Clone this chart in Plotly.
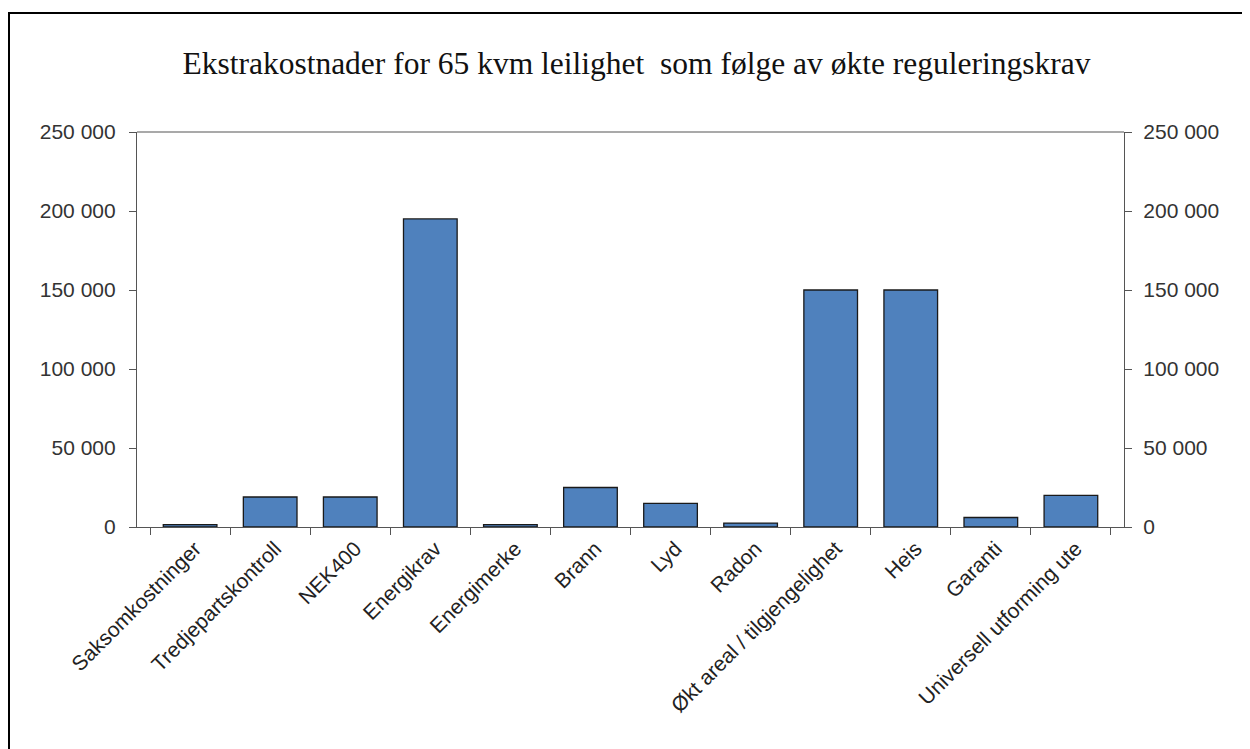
import plotly.graph_objects as go

categories = ["Saksomkostninger", "Tredjepartskontroll", "NEK400", "Energikrav", "Energimerke",
              "Brann", "Lyd", "Radon", "Økt areal / tilgjengelighet", "Heis", "Garanti",
              "Universell utforming ute"]
values = [1500, 19000, 19000, 195000, 1500, 25000, 15000, 2500, 150000, 150000, 6000, 20000]
y_ticks = [0, 50000, 100000, 150000, 200000, 250000]
y_tick_labels = ["0", "50 000", "100 000", "150 000", "200 000", "250 000"]
title = "Ekstrakostnader for 65 kvm leilighet  som følge av økte reguleringskrav"

W, H = 1250, 749
OFF = 8  # page body margin
L, R, T, B = 137 - OFF, 1124 - OFF, 132 - OFF, 527 - OFF

fig = go.Figure()
fig.add_trace(go.Bar(x=categories, y=values,
                     marker=dict(color="#4F81BD", line=dict(color="#1a1a1a", width=1.3)),
                     showlegend=False))
fig.add_trace(go.Scatter(x=categories, y=values, yaxis="y2", mode="markers",
                         marker=dict(opacity=0), showlegend=False, hoverinfo="skip"))

tickfont = dict(family="Liberation Sans, Arial", size=21, color="#333333")
fig.update_layout(
    width=W, height=H,
    margin=dict(l=L, r=W - R, t=T, b=H - B, pad=0),
    plot_bgcolor="white", paper_bgcolor="white",
    bargap=0.33,
    title=dict(text=title, x=0.506, xanchor="center", xref="paper", y=1 - 55 / H, yanchor="middle",
               yref="container", font=dict(family="Liberation Serif, Times New Roman", size=31.5, color="#111111")),
    xaxis=dict(type="category", showline=True, linecolor="#555555", linewidth=1.2,
               ticks="outside", ticklen=7, tickcolor="#555555", tickson="boundaries",
               tickangle=-45, tickfont=dict(family="Liberation Sans, Arial", size=21, color="#222222"),
               ticklabelshift=5, showgrid=False, zeroline=False),
    yaxis=dict(range=[0, 250000], tickvals=y_ticks, ticktext=y_tick_labels,
               showline=True, linecolor="#555555", linewidth=1.2, ticks="outside", ticklen=7,
               tickcolor="#555555", tickfont=tickfont, showgrid=False, zeroline=False, ticklabelstandoff=9),
    yaxis2=dict(range=[0, 250000], tickvals=y_ticks, ticktext=y_tick_labels, overlaying="y", side="right",
                showline=True, linecolor="#555555", linewidth=1.2, ticks="outside", ticklen=7,
                tickcolor="#555555", tickfont=tickfont, showgrid=False, zeroline=False, ticklabelstandoff=7),
)
# top border line of plot area
fig.add_shape(type="line", xref="paper", yref="paper", x0=0, x1=1, y0=1, y1=1,
              line=dict(color="#555555", width=1.2))
# outer chart border
pw, ph = R - L, B - T
fig.add_shape(type="rect", xref="paper", yref="paper",
              x0=(1 - L) / pw, x1=(1300 - L) / pw, y0=(B - 800) / ph, y1=(B - 5) / ph,
              line=dict(color="#000000", width=2), layer="above")

fig.write_html("out.html")
